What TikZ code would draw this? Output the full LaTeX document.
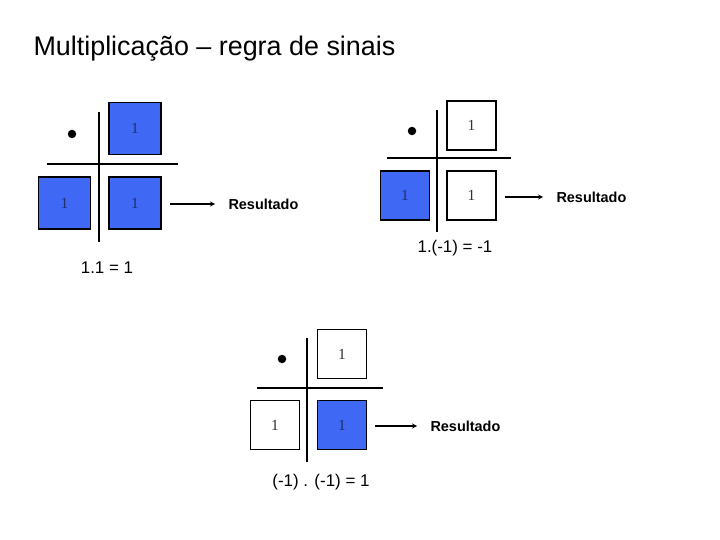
\documentclass[tikz,border=0pt]{standalone}
\usepackage{fontspec}
\setmainfont{Liberation Sans}
\newfontfamily\cellfont{Liberation Serif}
\usetikzlibrary{backgrounds}
\definecolor{cellblue}{HTML}{3F68F5}
\definecolor{cellink}{HTML}{1F2F70}

\begin{document}
\begin{tikzpicture}[x=1bp,y=-1bp,
    cell/.style={draw,line width=1.6bp,minimum size=#1,inner sep=0pt,
      font=\cellfont\fontsize{15.5}{16}\selectfont},
    cell/.default=49bp,
    arrow/.style={->,>=stealth,line width=1.2bp,shorten <=8bp,shorten >=10bp}]

    % `bluecell' and `whitecell' are the squares of the table.
    % `dot' is the product sign, `axis' the cross of the table.
    \tikzstyle{bluecell} = [fill=cellblue,text=cellink]
    \tikzstyle{whitecell} = [fill=white,text=black!80]
    \tikzstyle{dot} = [fill,shape=circle,minimum size=8.5bp,inner sep=0pt]
    \tikzstyle{axis} = [line width=2.6bp]
    \tikzstyle{result} = [anchor=west,font=\bfseries\fontsize{14.5}{17}\selectfont]
    \tikzstyle{product} = [font=\fontsize{17}{20}\selectfont]
    %
    \useasboundingbox (0,0) rectangle (720,540);

    \node[anchor=base west,font=\fontsize{27}{31}\selectfont] (title) at (30,56)
      {Multiplicação – regra de sinais};

    % First table.
    \node[dot] (A0) at (72,134) {};
    \node[cell=52bp,bluecell] (A12) at (135,128.5) {1};
    \node[cell=52bp,bluecell] (A21) at (64.5,203) {1};
    \node[cell=52bp,bluecell] (A22) at (135,203) {1};
    \coordinate (vtop1) at (99,112);
    \coordinate (vbot1) at (99,242);
    \coordinate (hleft1) at (47,164);
    \coordinate (hright1) at (178,164);
    \node[result] (R1) at (225,204) {Resultado};
    \draw[arrow] (A22.east |- R1) -- (R1.west);
    \node[product] (P1) at (107,268) {1.1 = 1};

    % Second table.
    \node[dot] (B0) at (412,131) {};
    \node[cell,whitecell] (B12) at (471.5,125.5) {1};
    \node[cell,bluecell] (B21) at (405,195.5) {1};
    \node[cell,whitecell] (B22) at (471.5,195.5) {1};
    \coordinate (vtop2) at (437,110);
    \coordinate (vbot2) at (437,232);
    \coordinate (hleft2) at (387,158);
    \coordinate (hright2) at (511,158);
    \node[result] (R2) at (553,197) {Resultado};
    \draw[arrow] (B22.east |- R2) -- (R2.west);
    \node[product] (P2) at (455,248) {1.(-1) = -1};

    % Third table.
    \node[dot] (C0) at (282,359) {};
    \node[cell,whitecell] (C12) at (342,354) {1};
    \node[cell,whitecell] (C21) at (275,425) {1};
    \node[cell,bluecell] (C22) at (342,425) {1};
    \coordinate (vtop3) at (307,338);
    \coordinate (vbot3) at (307,462);
    \coordinate (hleft3) at (257,388);
    \coordinate (hright3) at (383,388);
    \node[result] (R3) at (427,426) {Resultado};
    \draw[arrow] (C22.east |- R3) -- (R3.west);
    \node[product] (P3) at (321,482) {(-1) . (-1) = 1};

    \begin{pgfonlayer}{background}
        % Draw the crosses.
        \draw[axis] (vtop1) -- (vbot1) (hleft1) -- (hright1)
                    (vtop2) -- (vbot2) (hleft2) -- (hright2)
                    (vtop3) -- (vbot3) (hleft3) -- (hright3);
    \end{pgfonlayer}
    %
\end{tikzpicture}
\end{document}
